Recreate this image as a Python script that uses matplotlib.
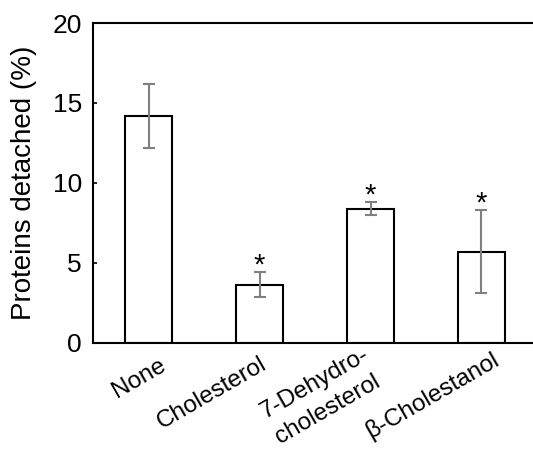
import matplotlib.pyplot as plt
import matplotlib.transforms as mtransforms
import numpy as np

plt.rcParams['font.family'] = ['Liberation Sans', 'DejaVu Sans']

# data
labels = ['None', 'Cholesterol', '7-Dehydro-\ncholesterol', 'β-Cholestanol']
values = [14.2, 3.65, 8.4, 5.7]
errors = [2.0, 0.8, 0.4, 2.6]
stars = ['', '*', '*', '*']

fig = plt.figure(figsize=(5.33, 4.51), dpi=100)
ax = fig.add_axes([0.1745, 0.2395, 0.8255, 0.7095])

x = np.arange(len(values))
ax.bar(x, values, width=0.42, color='white', edgecolor='black', linewidth=1.5, zorder=2)
ax.errorbar(x, values, yerr=errors, fmt='none', ecolor='#808080', elinewidth=1.5,
            capsize=4, capthick=1.5, zorder=3)

for xi, v, e, s in zip(x, values, errors, stars):
    if s:
        ax.text(xi, v + e - 0.1, s, ha='center', va='baseline', fontsize=21)

ax.set_xlim(-0.5, 3.464)
ax.set_ylim(0, 20)
ax.set_yticks([0, 5, 10, 15, 20])
ax.set_xticks(x)
ax.set_xticklabels([])

# category labels, rotated; nudges in pixels (right, down) of the top-right corner
nudges = [(10, 11.5), (0, 9.5), (-9, 0), (10, 5)]
base = ax.get_xaxis_transform()
for xi, lab, (dx, dy) in zip(x, labels, nudges):
    tr = base + mtransforms.ScaledTranslation(dx / 100, -dy / 100, fig.dpi_scale_trans)
    ax.text(xi, 0, lab, transform=tr, rotation=30, rotation_mode='anchor',
            ha='right', va='top', multialignment='left', fontsize=17.5,
            linespacing=1.45, clip_on=False)

ax.tick_params(axis='x', length=0)
ax.tick_params(axis='y', direction='in', length=3, width=1.2, labelsize=19, pad=8)
ax.set_ylabel('Proteins detached (%)', fontsize=20, labelpad=11)

ax.spines['right'].set_visible(False)
for sp in ['left', 'top', 'bottom']:
    ax.spines[sp].set_linewidth(1.5)

fig.savefig('out.png', dpi=100)
